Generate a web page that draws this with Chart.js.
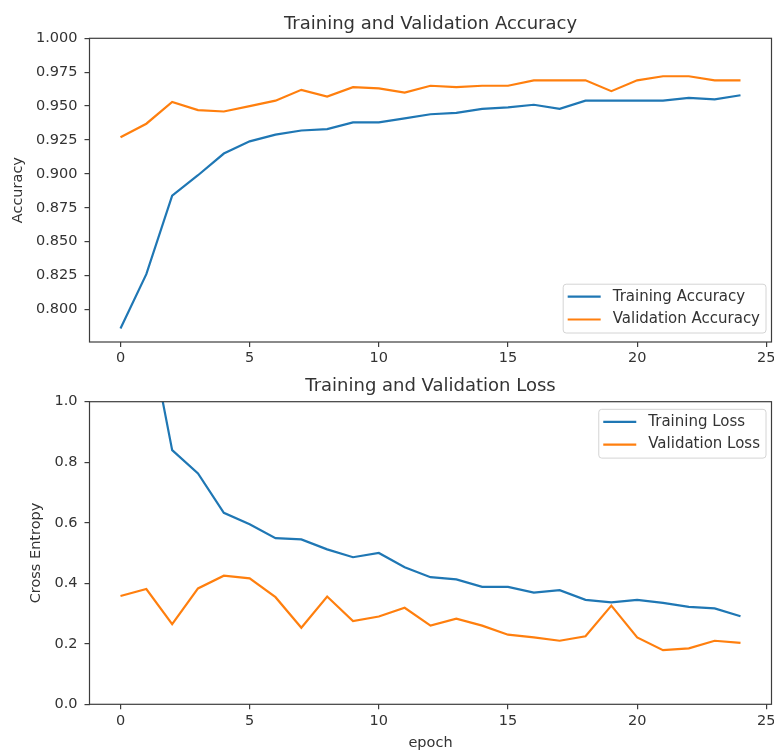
<!DOCTYPE html>
<html>
<head>
<meta charset="utf-8">
<script src="https://cdn.jsdelivr.net/npm/chart.js@4.4.1/dist/chart.umd.min.js"></script>
<style>
  html, body { margin: 0; padding: 0; background: #fff; overflow: hidden; width: 774px; height: 751px; }
  .box { position: absolute; left: 0; width: 790px; }
  #accBox { top: 0; height: 372px; }
  #lossBox { top: 366px; height: 386px; }
</style>
</head>
<body>
<div class="box" id="accBox"><canvas id="acc_chart"></canvas></div>
<div class="box" id="lossBox"><canvas id="loss_chart"></canvas></div>
<script>
const epochs = [0, 1, 2, 3, 4, 5, 6, 7, 8, 9, 10, 11, 12, 13, 14, 15, 16, 17, 18, 19, 20, 21, 22, 23, 24];
const trainingAccuracy = [0.786, 0.826, 0.884, 0.899, 0.915, 0.924, 0.929, 0.932, 0.933, 0.938, 0.938, 0.941, 0.944, 0.945, 0.948, 0.949, 0.951, 0.948, 0.954, 0.954, 0.954, 0.954, 0.956, 0.955, 0.958];
const validationAccuracy = [0.927, 0.937, 0.953, 0.947, 0.946, 0.950, 0.954, 0.962, 0.957, 0.964, 0.963, 0.960, 0.965, 0.964, 0.965, 0.965, 0.969, 0.969, 0.969, 0.961, 0.969, 0.972, 0.972, 0.969, 0.969];
// first two training losses are above the visible range, estimated
const trainingLoss = [1.95, 1.28, 0.840, 0.763, 0.633, 0.595, 0.549, 0.545, 0.512, 0.486, 0.500, 0.453, 0.420, 0.413, 0.388, 0.388, 0.369, 0.377, 0.345, 0.337, 0.345, 0.335, 0.322, 0.317, 0.291];
const validationLoss = [0.358, 0.381, 0.265, 0.383, 0.425, 0.416, 0.354, 0.253, 0.356, 0.275, 0.290, 0.319, 0.260, 0.283, 0.260, 0.230, 0.221, 0.210, 0.225, 0.326, 0.221, 0.179, 0.185, 0.210, 0.203];

const epochTicks = [0, 5, 10, 15, 20, 25];
const accuracyTicks = [0.800, 0.825, 0.850, 0.875, 0.900, 0.925, 0.950, 0.975, 1.000];
const lossTicks = [0.0, 0.2, 0.4, 0.6, 0.8, 1.0];

const BLUE = '#1f77b4';
const ORANGE = '#ff7f0e';
const TEXT = '#333';
const SPINE = '#3d3d3d';
const FONT = '"DejaVu Sans", sans-serif';

const toPoints = (values) => values.map((v, i) => ({ x: epochs[i], y: v }));

// matplotlib-like box around the axes
const frame = {
  id: 'frame',
  afterDatasetsDraw(chart) {
    const { ctx, chartArea: a } = chart;
    ctx.save();
    ctx.strokeStyle = SPINE;
    ctx.lineWidth = 1.2;
    ctx.strokeRect(a.left, a.top, a.right - a.left, a.bottom - a.top);
    ctx.restore();
  }
};

// legend drawn inside the axes, like plt.legend(loc=...)
const insideLegend = {
  id: 'insideLegend',
  afterDraw(chart, args, opts) {
    const { ctx, chartArea: a } = chart;
    const items = chart.data.datasets;
    ctx.save();
    ctx.font = '15px ' + FONT;
    const textW = Math.max(...items.map((d) => ctx.measureText(d.label).width));
    const rowH = 22.8;
    const w = 4.5 + 33 + 12 + textW + 6;
    const h = 12 + rowH * (items.length - 1) + 14;
    const x = a.right - 5.5 - w;
    const y = opts.corner === 'lower' ? a.bottom - 9 - h : a.top + 7.6;
    ctx.beginPath();
    ctx.roundRect(x, y, w, h, 3);
    ctx.fillStyle = 'rgba(255,255,255,0.8)';
    ctx.fill();
    ctx.strokeStyle = '#d4d4d4';
    ctx.lineWidth = 1;
    ctx.stroke();
    items.forEach((d, i) => {
      const cy = y + 12.5 + rowH * i;
      ctx.beginPath();
      ctx.moveTo(x + 4.5, cy);
      ctx.lineTo(x + 37.5, cy);
      ctx.strokeStyle = d.borderColor;
      ctx.lineWidth = 2.2;
      ctx.stroke();
      ctx.fillStyle = TEXT;
      ctx.textBaseline = 'middle';
      ctx.textAlign = 'left';
      ctx.fillText(d.label, x + 49.5, cy);
    });
    ctx.restore();
  }
};

const tickFont = { family: FONT, size: 14.5 };

const makeOptions = ({ title, titlePad, yTitle, yTitlePad, yMin, yMax, yTickList, yDigits, xHeight, xTitle, corner }) => ({
  responsive: true,
  maintainAspectRatio: false,
  animation: false,
  layout: { padding: { left: 0, right: 18.5, top: 0, bottom: 0 } },
  plugins: {
    legend: { display: false },
    tooltip: { enabled: false },
    title: {
      display: true,
      fullSize: false,
      text: title,
      color: TEXT,
      font: { family: FONT, size: 18, weight: 'normal', lineHeight: 1.2 },
      padding: titlePad
    },
    insideLegend: { corner }
  },
  elements: { point: { radius: 0 }, line: { tension: 0, borderWidth: 2.2 } },
  scales: {
    x: {
      type: 'linear',
      min: -1.2,
      max: 25.2,
      afterBuildTicks: (scale) => { scale.ticks = epochTicks.map((v) => ({ value: v })); },
      afterFit: (scale) => { scale.height = xHeight; },
      border: { display: false },
      grid: { drawOnChartArea: false, drawTicks: true, tickLength: 5, color: SPINE, lineWidth: 1.2 },
      ticks: { color: TEXT, font: tickFont, padding: 3, maxRotation: 0, callback: (v) => String(v) },
      title: xTitle
        ? { display: true, text: xTitle, color: TEXT, font: tickFont, padding: { top: 2, bottom: 0 } }
        : { display: false }
    },
    y: {
      type: 'linear',
      min: yMin,
      max: yMax,
      afterBuildTicks: (scale) => { scale.ticks = yTickList.map((v) => ({ value: v })); },
      afterFit: (scale) => { scale.width = 89.5; },
      border: { display: false },
      grid: { drawOnChartArea: false, drawTicks: true, tickLength: 5, color: SPINE, lineWidth: 1.2 },
      ticks: { color: TEXT, font: tickFont, padding: 7, callback: (v) => Number(v).toFixed(yDigits) },
      title: { display: true, text: yTitle, color: TEXT, font: tickFont, padding: { top: yTitlePad, bottom: 0 } }
    }
  }
});

new Chart(document.getElementById('acc_chart').getContext('2d'), {
  type: 'line',
  data: {
    datasets: [
      { label: 'Training Accuracy', data: toPoints(trainingAccuracy), borderColor: BLUE, backgroundColor: BLUE, fill: false },
      { label: 'Validation Accuracy', data: toPoints(validationAccuracy), borderColor: ORANGE, backgroundColor: ORANGE, fill: false }
    ]
  },
  options: makeOptions({
    title: 'Training and Validation Accuracy',
    titlePad: { top: 13.2, bottom: 3.5 },
    yTitle: 'Accuracy',
    yTitlePad: 9.6,
    yMin: 0.776,
    yMax: 1.0,
    yTickList: accuracyTicks,
    yDigits: 3,
    xHeight: 30,
    xTitle: null,
    corner: 'lower'
  }),
  plugins: [frame, insideLegend]
});

new Chart(document.getElementById('loss_chart').getContext('2d'), {
  type: 'line',
  data: {
    datasets: [
      { label: 'Training Loss', data: toPoints(trainingLoss), borderColor: BLUE, backgroundColor: BLUE, fill: false },
      { label: 'Validation Loss', data: toPoints(validationLoss), borderColor: ORANGE, backgroundColor: ORANGE, fill: false }
    ]
  },
  options: makeOptions({
    title: 'Training and Validation Loss',
    titlePad: { top: 9.9, bottom: 4.2 },
    yTitle: 'Cross Entropy',
    yTitlePad: 28,
    yMin: 0,
    yMax: 1.0,
    yTickList: lossTicks,
    yDigits: 1,
    xHeight: 47.7,
    xTitle: 'epoch',
    corner: 'upper'
  }),
  plugins: [frame, insideLegend]
});
</script>
</body>
</html>
